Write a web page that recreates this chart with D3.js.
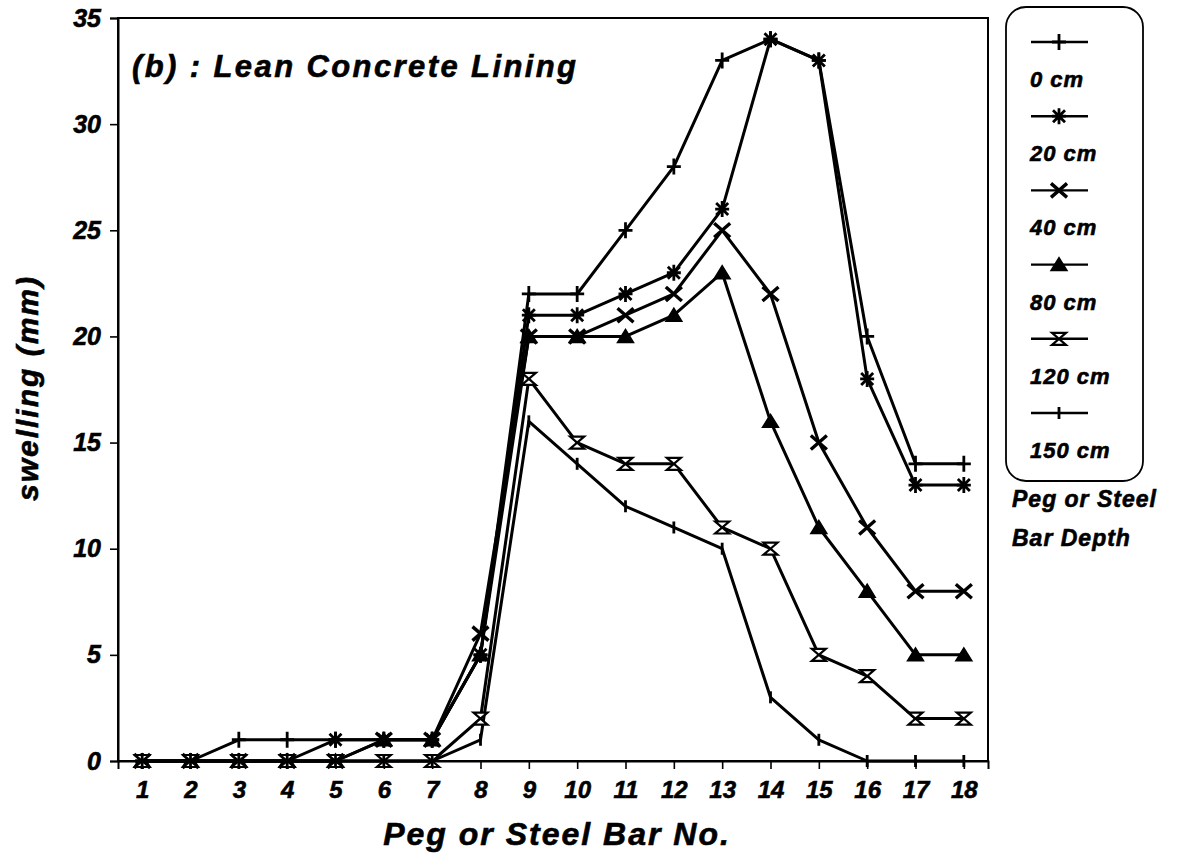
<!DOCTYPE html>
<html>
<head>
<meta charset="utf-8">
<script src="https://cdn.jsdelivr.net/npm/d3@7"></script>
<style>
  html, body { margin: 0; padding: 0; background: #fff; }
  svg { display: block; }
  text { font-family: "Liberation Sans", Arial, sans-serif; font-weight: bold; font-style: italic; fill: #000; stroke: #000; stroke-width: 0.6px; }
</style>
</head>
<body>
<svg id="chart" width="1180" height="855"></svg>
<script>
// ---- Data ----
const pegs = [1,2,3,4,5,6,7,8,9,10,11,12,13,14,15,16,17,18];
const yTicks = [0,5,10,15,20,25,30,35];
const seriesNames = ["0 cm","20 cm","40 cm","80 cm","120 cm","150 cm"];
const depth0   = [0,0,1,1,1,1,1,5,22,22,25,28,33,34,33,20,14,14];
const depth20  = [0,0,0,0,1,1,1,5,21,21,22,23,26,34,33,18,13,13];
const depth40  = [0,0,0,0,0,1,1,6,20,20,21,22,25,22,15,11,8,8];
const depth80  = [0,0,0,0,0,1,1,5,20,20,20,21,23,16,11,8,5,5];
const depth120 = [0,0,0,0,0,0,0,2,18,15,14,14,11,10,5,4,2,2];
const depth150 = [0,0,0,0,0,0,0,1,16,14,12,11,10,3,1,0,0,0];
const seriesValues = [depth0, depth20, depth40, depth80, depth120, depth150];
const markerKinds = ["plus","asterisk","cross","triangle","hourglass","tick"];

const titleText = "(b) : Lean Concrete Lining";
const xTitle = "Peg or Steel Bar No.";
const yTitle = "swelling (mm)";
const legendNote = ["Peg or Steel", "Bar Depth"];

// ---- Layout ----
const svg = d3.select("#chart");
const x = d3.scaleLinear().domain([0.5, 18.5]).range([118, 988]);
const y = d3.scaleLinear().domain([0, 35]).range([761, 18]);

const markerPaths = {
  plus: "M-7,0H7M0,-8V8",
  asterisk: "M-7,0H7M0,-8V8M-6,-6L6,6M-6,6L6,-6",
  cross: "M-8,-7L8,7M-8,7L8,-7",
  triangle: "M0,-7L8,6H-8Z",
  hourglass: "M-7,-6H7L-7,6H7Z",
  tick: "M0,-6V6"
};
function drawMarker(g, kind, cx, cy) {
  const p = g.append("path")
    .attr("d", markerPaths[kind])
    .attr("transform", `translate(${cx},${cy})`)
    .attr("stroke", "#000")
    .attr("stroke-linejoin", "miter");
  if (kind === "triangle") p.attr("fill", "#000").attr("stroke-width", 1.5);
  else if (kind === "hourglass") p.attr("fill", "#fff").attr("stroke-width", 2.2);
  else p.attr("fill", "none").attr("stroke-width", kind === "cross" ? 3.4 : 2.8);
}

// plot frame
svg.append("rect")
  .attr("x", x(0.5)).attr("y", y(35))
  .attr("width", x(18.5) - x(0.5)).attr("height", y(0) - y(35))
  .attr("fill", "none").attr("stroke", "#000").attr("stroke-width", 2);

const tickFont = sel => sel
  .style("font-family", "'Liberation Sans', Arial, sans-serif")
  .style("font-weight", "bold").style("font-style", "italic")
  .style("stroke", "#000").style("stroke-width", "0.6px");

// axes
const xAxis = d3.axisBottom(x).tickValues(pegs).tickSize(8).tickPadding(6).tickFormat(d3.format("d"));
const gx = svg.append("g").attr("transform", `translate(0,${y(0)})`).call(xAxis);
gx.select(".domain").attr("stroke-width", 2);
gx.selectAll(".tick line").attr("stroke-width", 1.6);
gx.selectAll(".tick text").attr("font-size", 24).attr("dy", "0.95em").call(tickFont);

const yAxis = d3.axisLeft(y).tickValues(yTicks).tickSize(8).tickPadding(9).tickFormat(d3.format("d"));
const gy = svg.append("g").attr("transform", `translate(${x(0.5)},0)`).call(yAxis);
gy.select(".domain").attr("stroke-width", 2);
gy.selectAll(".tick line").attr("stroke-width", 1.6);
gy.selectAll(".tick text").attr("font-size", 25).call(tickFont);

// series
const line = d3.line().x((d, i) => x(pegs[i])).y(d => y(d));
seriesValues.forEach((vals) => {
  svg.append("path").datum(vals)
    .attr("d", line)
    .attr("fill", "none").attr("stroke", "#000").attr("stroke-width", 3)
    .attr("stroke-linejoin", "round");
});
seriesValues.forEach((vals, s) => {
  const g = svg.append("g");
  vals.forEach((v, i) => drawMarker(g, markerKinds[s], x(pegs[i]), y(v)));
});

// titles
svg.append("text").attr("x", 132).attr("y", 77).attr("font-size", 31)
  .attr("letter-spacing", 2.4).text(titleText);
svg.append("text").attr("x", 557).attr("y", 845).attr("text-anchor", "middle").attr("font-size", 32)
  .attr("letter-spacing", 2).text(xTitle);
svg.append("text").attr("transform", "translate(38,388) rotate(-90)")
  .attr("text-anchor", "middle").attr("font-size", 30).attr("letter-spacing", 2).text(yTitle);

// legend
const lg = svg.append("g");
lg.append("rect").attr("x", 1006).attr("y", 7).attr("width", 137).attr("height", 474)
  .attr("rx", 20).attr("ry", 20).attr("fill", "none").attr("stroke", "#000").attr("stroke-width", 1.8);
seriesNames.forEach((name, i) => {
  const sy = 42 + i * 74.2;
  lg.append("line").attr("x1", 1031).attr("x2", 1088).attr("y1", sy).attr("y2", sy)
    .attr("stroke", "#000").attr("stroke-width", 2.4);
  drawMarker(lg, markerKinds[i], 1059, sy);
  lg.append("text").attr("x", 1030).attr("y", sy + 45).attr("font-size", 22).attr("letter-spacing", 1).text(name);
});
legendNote.forEach((t, i) => {
  svg.append("text").attr("x", 1012).attr("y", 507 + i * 39).attr("font-size", 23).attr("letter-spacing", 1).text(t);
});
</script>
</body>
</html>
